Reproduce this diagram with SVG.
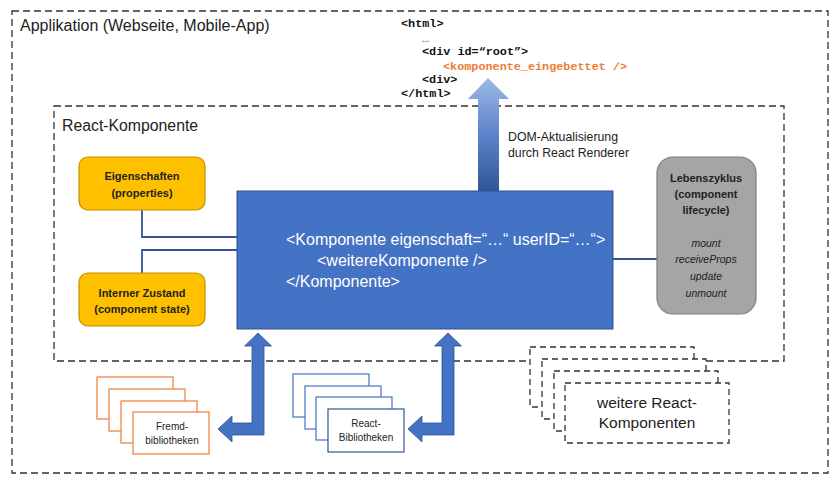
<svg xmlns="http://www.w3.org/2000/svg" width="838" height="484" viewBox="0 0 838 484">
<defs>
<style>
.dash{fill:none;stroke:#333;stroke-width:1.3;stroke-dasharray:7 4}
.dashw{fill:#fff;stroke:#333;stroke-width:1.3;stroke-dasharray:6 4}
.t{font-family:"Liberation Sans",Arial,sans-serif;fill:#222}
.code{font-family:"Liberation Mono","Courier New",monospace;font-weight:bold;font-size:11.8px;fill:#111}
.gold{fill:#FFC000;stroke:#BF9000;stroke-width:1.2}
.conn{fill:none;stroke:#2F5597;stroke-width:1.8}
.ora{fill:#fff;stroke:#ED7D31;stroke-width:1.2}
.blu{fill:#fff;stroke:#4472C4;stroke-width:1.2}
.barrow{fill:#4472C4;stroke:#2F528F;stroke-width:0.8}
</style>
<linearGradient id="upg" x1="0" y1="0" x2="0" y2="1">
<stop offset="0" stop-color="#9DB9E6"/>
<stop offset="0.5" stop-color="#5B83C9"/>
<stop offset="1" stop-color="#2F5597"/>
</linearGradient>
</defs>

<g id="applikation">
<rect class="dash" x="12" y="11" width="816" height="462"/>
<text class="t" x="20" y="31" font-size="16">Applikation (Webseite, Mobile-App)</text>
</g>

<g id="html">
<text class="code" x="401" y="27">&lt;html&gt;</text>
<text class="code" x="422" y="42" font-size="7" style="font-weight:normal;fill:#666">…</text>
<text class="code" x="422" y="55">&lt;div id=“root”&gt;</text>
<text class="code" x="443" y="70" style="fill:#ED7D31">&lt;komponente_eingebettet /&gt;</text>
<text class="code" x="422" y="83">&lt;div&gt;</text>
<text class="code" x="401" y="97">&lt;/html&gt;</text>
</g>

<g id="react-komponente">
<rect class="dash" x="54" y="106" width="730" height="255"/>
<text class="t" x="62" y="131" font-size="15.8">React-Komponente</text>
</g>

<g id="connectors">
<polygon points="488,78 509,99 499,99 499,192 478,192 478,99 468,99" fill="url(#upg)"/>
<polyline class="conn" points="142,210 142,237 237,237"/>
<polyline class="conn" points="142,273 142,250 237,250"/>
<line class="conn" x1="613" y1="259" x2="657" y2="259"/>
<polygon class="barrow" points="258,333 271.5,346 264,346 264,435 232,435 232,442 218,429 232,416 232,423 252,423 252,346 244.5,346"/>
<polygon class="barrow" transform="translate(190,0)" points="258,333 271.5,346 264,346 264,435 232,435 232,442 218,429 232,416 232,423 252,423 252,346 244.5,346"/>
</g>

<g id="dom-label">
<text class="t" x="508" y="141" font-size="12.3">DOM-Aktualisierung</text>
<text class="t" x="508" y="157" font-size="12.3">durch React Renderer</text>
</g>

<g id="eigenschaften">
<rect class="gold" x="79" y="157" width="126" height="53" rx="9"/>
<text class="t" x="142" y="180" font-size="11" font-weight="bold" text-anchor="middle">Eigenschaften</text>
<text class="t" x="142" y="197" font-size="11" font-weight="bold" text-anchor="middle">(properties)</text>
</g>

<g id="zustand">
<rect class="gold" x="79" y="273" width="126" height="53" rx="9"/>
<text class="t" x="142" y="297" font-size="11" font-weight="bold" text-anchor="middle">Interner Zustand</text>
<text class="t" x="142" y="313" font-size="11" font-weight="bold" text-anchor="middle">(component state)</text>
</g>

<g id="komponente">
<rect x="237" y="191" width="376" height="138" fill="#4472C4" stroke="#2F528F" stroke-width="1"/>
<text class="t" x="286" y="245" font-size="16" style="fill:#fff">&lt;Komponente eigenschaft=“…“ userID=“…“&gt;</text>
<text class="t" x="317" y="266" font-size="16" style="fill:#fff">&lt;weitereKomponente /&gt;</text>
<text class="t" x="286" y="287" font-size="16" style="fill:#fff">&lt;/Komponente&gt;</text>
</g>

<g id="lebenszyklus">
<rect x="657" y="157" width="99" height="157" rx="16" fill="#A5A5A5" stroke="#7F7F7F" stroke-width="1.2"/>
<text class="t" x="706" y="182" font-size="11" font-weight="bold" text-anchor="middle">Lebenszyklus</text>
<text class="t" x="706" y="198" font-size="11" font-weight="bold" text-anchor="middle">(component</text>
<text class="t" x="706" y="214" font-size="11" font-weight="bold" text-anchor="middle">lifecycle)</text>
<text class="t" x="706" y="247" font-size="10.5" font-style="italic" text-anchor="middle">mount</text>
<text class="t" x="706" y="263" font-size="10.5" font-style="italic" text-anchor="middle">receiveProps</text>
<text class="t" x="706" y="280" font-size="10.5" font-style="italic" text-anchor="middle">update</text>
<text class="t" x="706" y="297" font-size="10.5" font-style="italic" text-anchor="middle">unmount</text>
</g>

<g id="fremdbibliotheken">
<rect class="ora" x="97" y="377" width="76" height="42"/>
<rect class="ora" x="109" y="389" width="76" height="42"/>
<rect class="ora" x="121" y="401" width="76" height="42"/>
<rect class="ora" x="133" y="412" width="76" height="42"/>
<text class="t" x="172" y="430" font-size="10" text-anchor="middle">Fremd-</text>
<text class="t" x="172" y="444" font-size="10" text-anchor="middle">bibliotheken</text>
</g>

<g id="react-bibliotheken">
<rect class="blu" x="293" y="374" width="76" height="43"/>
<rect class="blu" x="305" y="386" width="76" height="43"/>
<rect class="blu" x="316" y="397" width="76" height="43"/>
<rect class="blu" x="328" y="409" width="76" height="43" style="stroke:#2F5597"/>
<text class="t" x="366" y="427" font-size="10" text-anchor="middle">React-</text>
<text class="t" x="366" y="441" font-size="10" text-anchor="middle">Bibliotheken</text>
</g>

<g id="weitere-komponenten">
<rect class="dashw" x="530" y="347" width="164" height="60"/>
<rect class="dashw" x="542" y="359" width="164" height="60"/>
<rect class="dashw" x="554" y="371" width="164" height="60"/>
<rect class="dashw" x="565" y="383" width="164" height="60"/>
<text class="t" x="647" y="408" font-size="15.5" text-anchor="middle">weitere React-</text>
<text class="t" x="647" y="428" font-size="15.5" text-anchor="middle">Komponenten</text>
</g>
</svg>
